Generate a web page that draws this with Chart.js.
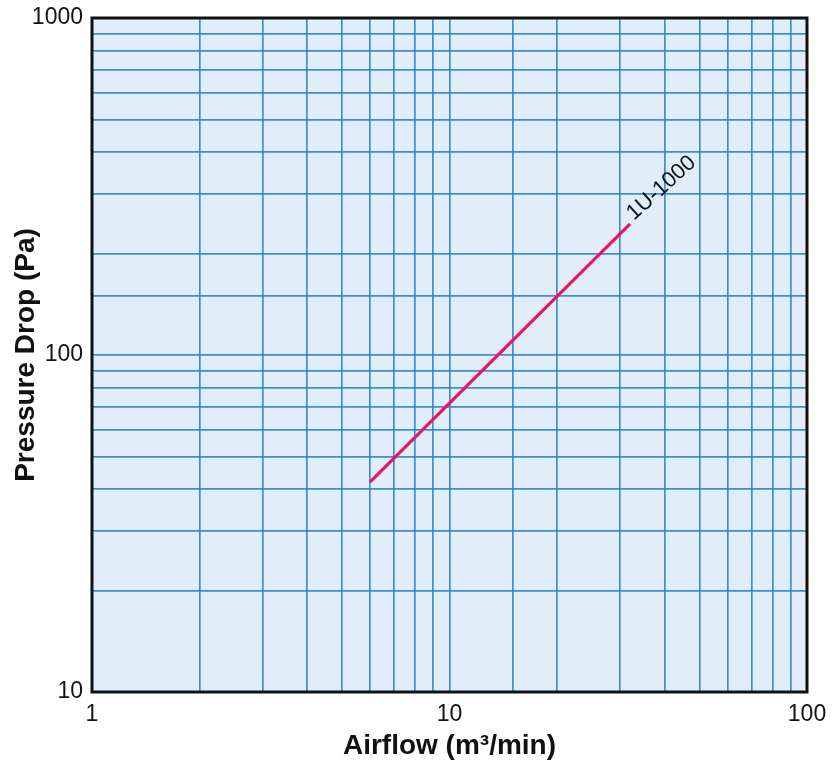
<!DOCTYPE html>
<html>
<head>
<meta charset="utf-8">
<script src="https://cdn.jsdelivr.net/npm/chart.js@4/dist/chart.umd.min.js"></script>
<style>
  html, body { margin: 0; padding: 0; background: #ffffff; }
  #wrap { width: 832px; height: 763px; position: relative; }
</style>
</head>
<body>
<div id="wrap"><canvas id="c" width="832" height="763"></canvas></div>
<script>
// ---- Data ----
const seriesName = '1U-1000';
const airflow = [6, 32];          // m3/min
const pressureDrop = [42, 245];   // Pa
const xTickLabels = [1, 10, 100];
const yTickLabels = [10, 100, 1000];
const xTitle = 'Airflow (m³/min)';
const yTitle = 'Pressure Drop (Pa)';

const FONT = "'Liberation Sans', Arial, Helvetica, sans-serif";

const areaPlugin = {
  id: 'areaPlugin',
  beforeDraw(chart) {
    const {ctx, chartArea: a} = chart;
    ctx.save();
    ctx.fillStyle = '#e1eef9';
    ctx.fillRect(a.left, a.top, a.right - a.left, a.bottom - a.top);
    ctx.restore();
  },
  afterDraw(chart) {
    const {ctx, chartArea: a, scales} = chart;
    ctx.save();
    ctx.strokeStyle = '#111111';
    ctx.lineWidth = 3;
    ctx.strokeRect(a.left, a.top, a.right - a.left, a.bottom - a.top);
    // series label at end of line
    const n = airflow.length - 1;
    const px = scales.x.getPixelForValue(airflow[n]);
    const py = scales.y.getPixelForValue(pressureDrop[n]);
    ctx.translate(px + 4, py - 3);
    ctx.rotate(-42 * Math.PI / 180);
    ctx.fillStyle = '#111111';
    ctx.font = '22px ' + FONT;
    ctx.textAlign = 'left';
    ctx.textBaseline = 'alphabetic';
    ctx.fillText(seriesName, 0, 0);
    ctx.restore();
  }
};

new Chart(document.getElementById('c'), {
  type: 'line',
  data: {
    datasets: [{
      label: seriesName,
      data: airflow.map((x, i) => ({x: x, y: pressureDrop[i]})),
      borderColor: '#e8175d',
      borderWidth: 3.2,
      pointRadius: 0,
      fill: false,
      tension: 0
    }]
  },
  options: {
    responsive: false,
    animation: false,
    devicePixelRatio: 1,
    layout: { padding: { top: 18, right: 25, left: 0, bottom: 0 } },
    plugins: { legend: { display: false }, tooltip: { enabled: false } },
    scales: {
      x: {
        type: 'logarithmic',
        min: 1, max: 100,
        afterFit(s) { s.height = 71; s.paddingLeft = 0; s.paddingRight = 0; },
        grid: { color: 'rgba(42,132,205,0.9)', lineWidth: 1.7, drawTicks: false },
        border: { display: false },
        ticks: {
          autoSkip: false,
          maxRotation: 0,
          padding: 9,
          color: '#111111',
          font: { family: FONT, size: 23 },
          callback(v) { return xTickLabels.includes(v) ? String(v) : ''; }
        },
        title: {
          display: true,
          text: xTitle,
          color: '#111111',
          font: { family: FONT, size: 28, weight: 'bold' },
          padding: { top: 0, bottom: 0 }
        }
      },
      y: {
        type: 'logarithmic',
        min: 10, max: 1000,
        afterFit(s) { s.width = 92; s.paddingTop = 0; s.paddingBottom = 0; },
        grid: { color: 'rgba(42,132,205,0.9)', lineWidth: 1.7, drawTicks: false },
        border: { display: false },
        ticks: {
          autoSkip: false,
          padding: 9,
          color: '#111111',
          font: { family: FONT, size: 23 },
          callback(v) { return yTickLabels.includes(v) ? String(v) : ''; }
        },
        title: {
          display: true,
          text: yTitle,
          color: '#111111',
          font: { family: FONT, size: 28, weight: 'bold' },
          padding: { top: 9, bottom: 0 }
        }
      }
    }
  },
  plugins: [areaPlugin]
});
</script>
</body>
</html>
